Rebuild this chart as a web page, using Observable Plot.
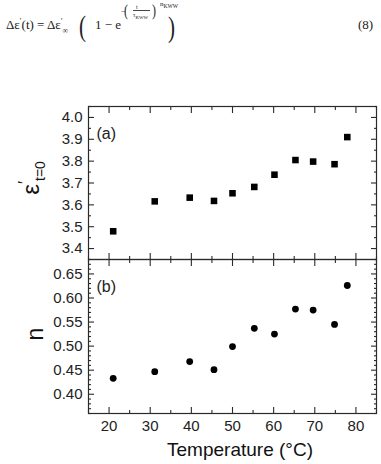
<!DOCTYPE html>
<html><head><meta charset="utf-8">
<script src="https://cdn.jsdelivr.net/npm/d3@7"></script>
<script src="https://cdn.jsdelivr.net/npm/@observablehq/plot@0.6"></script>
<style>
body{margin:0;background:#fff;}
#wrap{position:relative;width:381px;height:464px;overflow:hidden;background:#fff;font-family:"Liberation Sans",Arial,sans-serif;color:#111;}
.abs{position:absolute;white-space:nowrap;line-height:1;}
.eq{font-family:"Liberation Serif","Times New Roman",serif;color:#222;}
.eq sup,.eq sub{font-size:60%;line-height:0;}
svg{position:absolute;left:0;overflow:visible;}
</style></head><body><div id="wrap"></div>
<script>
// ---- data ----
const temperature = [21.0, 31.1, 39.6, 45.5, 50.0, 55.3, 60.2, 65.3, 69.6, 74.8, 77.9];
const epsT0       = [3.479, 3.616, 3.633, 3.618, 3.653, 3.682, 3.738, 3.805, 3.798, 3.786, 3.910];
const nValues     = [0.433, 0.447, 0.468, 0.451, 0.499, 0.537, 0.525, 0.577, 0.575, 0.545, 0.626];

// ---- tick labels ----
const xTicks   = [20, 30, 40, 50, 60, 70, 80];
const xMinor   = [15, 25, 35, 45, 55, 65, 75, 85];
const epsTicks = [3.4, 3.5, 3.6, 3.7, 3.8, 3.9, 4.0];
const epsMinor = [3.35, 3.45, 3.55, 3.65, 3.75, 3.85, 3.95, 4.05];
const nTicks   = [0.40, 0.45, 0.50, 0.55, 0.60, 0.65];
const nMinor   = [0.36, 0.37, 0.38, 0.39, 0.41, 0.42, 0.43, 0.44, 0.46, 0.47, 0.48, 0.49,
                  0.51, 0.52, 0.53, 0.54, 0.56, 0.57, 0.58, 0.59, 0.61, 0.62, 0.63, 0.64,
                  0.66, 0.67, 0.68];

const dataA = temperature.map((t, i) => ({T: t, v: epsT0[i]}));
const dataB = temperature.map((t, i) => ({T: t, v: nValues[i]}));

const ink = "#2a2a2a";
const blank = () => "";
function axes(yTicks, yMinor, yFmt, xLabels) {
  const common = {stroke: ink, strokeWidth: 1.1, label: null, fontSize: 15, fill: "#222"};
  return [
    Plot.axisX(xTicks, {...common, anchor: "bottom", tickSize: -6, tickPadding: 13, tickFormat: xLabels ? (d => d) : blank}),
    Plot.axisX(xMinor, {...common, anchor: "bottom", tickSize: -3, tickFormat: blank}),
    Plot.axisX(xTicks, {...common, anchor: "top", tickSize: -6, tickFormat: blank}),
    Plot.axisX(xMinor, {...common, anchor: "top", tickSize: -3, tickFormat: blank}),
    Plot.axisY(yTicks, {...common, anchor: "left", tickSize: -6, tickPadding: 12, tickFormat: yFmt}),
    Plot.axisY(yMinor, {...common, anchor: "left", tickSize: -3, tickFormat: blank}),
    Plot.axisY(yTicks, {...common, anchor: "right", tickSize: -6, tickFormat: blank}),
    Plot.axisY(yMinor, {...common, anchor: "right", tickSize: -3, tickFormat: blank}),
    Plot.frame({stroke: ink, strokeWidth: 1.2})
  ];
}
const style = {fontFamily: '"Liberation Sans", Arial, sans-serif', fontSize: "15px", background: "transparent", overflow: "visible"};

const plotA = Plot.plot({
  width: 381, height: 159, marginLeft: 88, marginRight: 5, marginTop: 6, marginBottom: 0,
  x: {domain: [15, 85]}, y: {domain: [3.35, 4.05]}, style,
  marks: [
    ...axes(epsTicks, epsMinor, d3.format(".1f"), false),
    Plot.dot(dataA, {x: "T", y: "v", symbol: "square", r: 3.7, fill: "#000", stroke: null}),
    Plot.text(["(a)"], {frameAnchor: "top-left", textAnchor: "start", dx: 8, dy: 21, fontSize: 16, fill: "#222"})
  ]
});
const plotB = Plot.plot({
  width: 381, height: 184, marginLeft: 88, marginRight: 5, marginTop: 0, marginBottom: 30,
  x: {domain: [15, 85]}, y: {domain: [0.36, 0.68]}, style,
  marks: [
    ...axes(nTicks, nMinor, d3.format(".2f"), true),
    Plot.dot(dataB, {x: "T", y: "v", symbol: "circle", r: 3.4, fill: "#000", stroke: null}),
    Plot.text(["(b)"], {frameAnchor: "top-left", textAnchor: "start", dx: 8, dy: 21, fontSize: 16, fill: "#222"})
  ]
});

const wrap = document.getElementById("wrap");
wrap.innerHTML = `
<div class="abs eq" style="left:6px;top:18px;font-size:13px;">&Delta;&epsilon;<sup>&prime;</sup>(t) = &Delta;&epsilon;<sup>&prime;</sup><sub>&infin;</sub></div>
<div class="abs eq" style="left:79px;top:14px;font-size:30px;font-weight:100;line-height:0.8;transform:scaleX(0.7);transform-origin:left;">(</div>
<div class="abs eq" style="left:95px;top:18px;font-size:13px;">1 &minus; e</div>
<div class="abs eq" style="left:121px;top:8px;font-size:8px;">&minus;</div>
<div class="abs eq" style="left:124px;top:4px;font-size:17px;line-height:0.85;transform:scaleX(0.7);transform-origin:left;">(</div>
<div class="abs eq" style="left:136px;top:4px;font-size:6px;">t</div>
<div class="abs eq" style="left:133px;top:10px;width:17px;border-top:0.6px solid #444;"></div>
<div class="abs eq" style="left:133px;top:12px;font-size:6px;">&tau;<sub style="font-size:80%">KWW</sub></div>
<div class="abs eq" style="left:152px;top:4px;font-size:17px;line-height:0.85;transform:scaleX(0.7);transform-origin:left;">)</div>
<div class="abs eq" style="left:160px;top:1px;font-size:7px;">n<sub style="font-size:80%">KWW</sub></div>
<div class="abs eq" style="left:168px;top:15px;font-size:30px;font-weight:100;line-height:0.8;transform:scaleX(0.7);transform-origin:left;">)</div>
<div class="abs eq" style="left:358px;top:18px;font-size:13px;">(8)</div>
<div class="abs" style="left:31px;top:178px;font-size:24px;transform:translate(-50%,-50%) rotate(-90deg);">&epsilon;<sup style="font-size:70%;line-height:0;">&prime;</sup><sub style="font-size:58%;line-height:0;">t=0</sub></div>
<div class="abs" style="left:35px;top:334px;font-size:23px;transform:translate(-50%,-50%) rotate(-90deg);">n</div>
<div class="abs" style="left:240px;top:440px;font-size:19px;transform:translateX(-50%);">Temperature (°C)</div>
`;
plotA.style.top = "100px";
plotB.style.top = "259px";
wrap.appendChild(plotA);
wrap.appendChild(plotB);
</script></body></html>
